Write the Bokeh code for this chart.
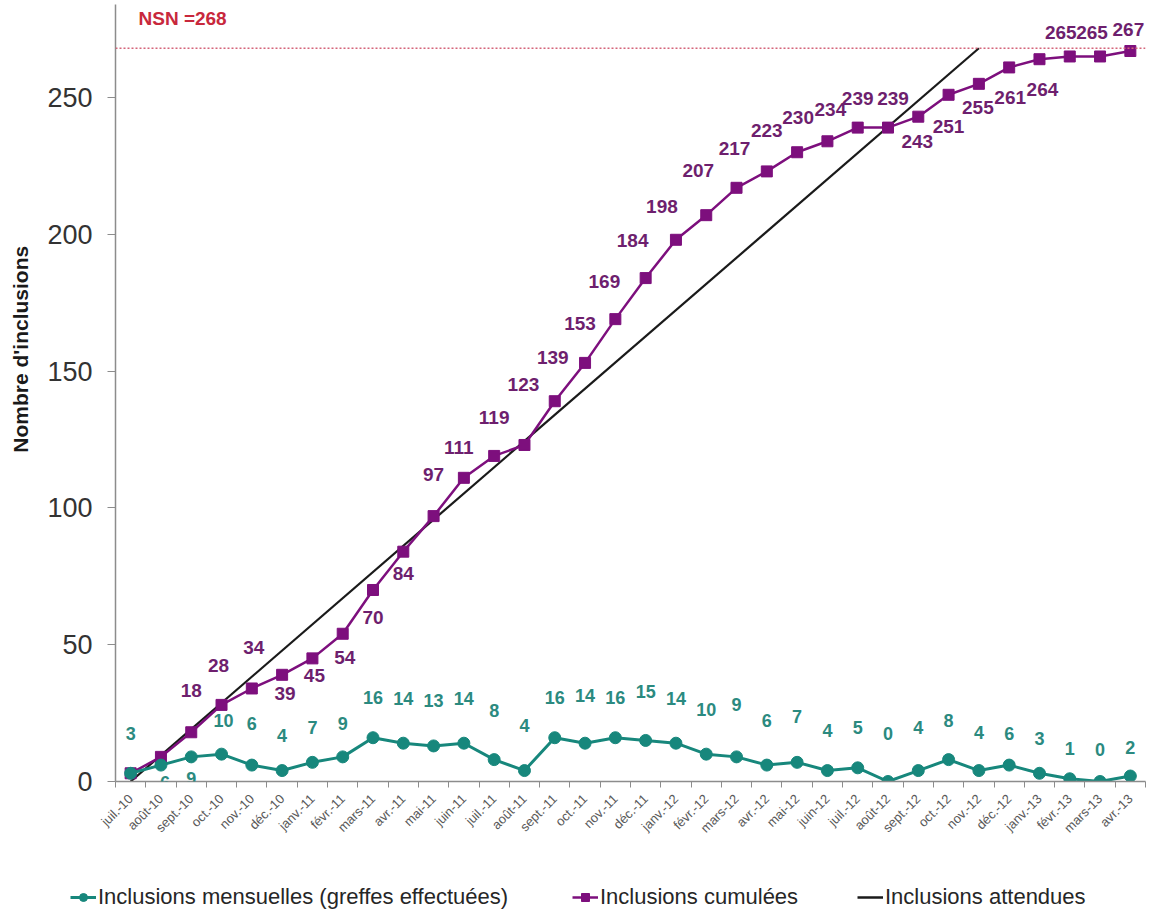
import math
from bokeh.plotting import figure
from bokeh.layouts import column, row
from bokeh.models import (ColumnDataSource, Range1d, FixedTicker, LabelSet, Label,
                          Legend, LegendItem, Span)
from bokeh.core.properties import value
from bokeh.embed import file_html
from bokeh.resources import INLINE

# ---------------- data ----------------
months = ["juil.-10", "août-10", "sept.-10", "oct.-10", "nov.-10", "déc.-10",
          "janv.-11", "févr.-11", "mars-11", "avr.-11", "mai-11", "juin-11",
          "juil.-11", "août-11", "sept.-11", "oct.-11", "nov.-11", "déc.-11",
          "janv.-12", "févr.-12", "mars-12", "avr.-12", "mai-12", "juin-12",
          "juil.-12", "août-12", "sept.-12", "oct.-12", "nov.-12", "déc.-12",
          "janv.-13", "févr.-13", "mars-13", "avr.-13"]
mensuelles = [3, 6, 9, 10, 6, 4, 7, 9, 16, 14, 13, 14, 8, 4, 16, 14, 16, 15,
              14, 10, 9, 6, 7, 4, 5, 0, 4, 8, 4, 6, 3, 1, 0, 2]
cumulees = [3, 9, 18, 28, 34, 39, 45, 54, 70, 84, 97, 111, 119, 123, 139, 153,
            169, 184, 198, 207, 217, 223, 230, 234, 239, 239, 243, 251, 255,
            261, 264, 265, 265, 267]
attendues_x = [0, 28]      # month index where expected line starts / ends
attendues_y = [0, 268]
nsn = 268
y_ticks = [0, 50, 100, 150, 200, 250]

# ---------------- style ----------------
SANS = "Liberation Sans"
TEAL = "#17877c"
TEAL_TXT = "#2b8a80"
PURPLE = "#7d0f7d"
PURPLE_TXT = "#6e1f6e"

# label offsets (pixels, image convention: +dy = downwards)
teal_dx = [0, 4, 0, 2] + [0] * 30
teal_dy = [-40, 17, 22, -34, -42, -35, -35, -33, -40, -45, -45, -45, -49, -45,
           -40, -48, -40, -49, -45, -45, -52, -45, -46, -40, -40, -48, -43,
           -39, -38, -32, -35, -30, -32, -29]
purple_dx = [0, 0, 0, -3, 2, 3, 2, 2, 0, 0, 0, -5, 0, -1, -2, -5, -11, -13,
             -14, -8, -2, 0, 1, 3, 0, 5, -1, 0, -1, 1, 3, -9, -8, -2]
purple_dy = [0, 0, -42, -39, -41, 19, 17, 24, 28, 22, -42, -30, -38, -60, -44,
             -39, -38, -38, -33, -45, -39, -41, -35, -32, -29, -29, 25, 32, 24,
             30, 30, -24, -24, -22]

idx = list(range(len(months)))

# ---------------- main plot ----------------
p = figure(width=1108, height=870, output_backend="svg", toolbar_location=None,
           x_range=Range1d(-0.5, len(months) - 0.5), y_range=Range1d(0, 284),
           min_border_left=75, min_border_right=3, min_border_top=4,
           min_border_bottom=89)
p.outline_line_color = None
p.grid.visible = False

xa = p.xaxis[0]
xa.ticker = FixedTicker(ticks=idx, minor_ticks=[i - 0.5 for i in range(len(months) + 1)])
xa.major_label_overrides = {i: m for i, m in enumerate(months)}
xa.major_label_orientation = math.pi / 4
xa.major_tick_out = 0
xa.major_tick_in = 0
xa.minor_tick_out = 6
xa.minor_tick_in = 0
xa.minor_tick_line_color = "#8c8c8c"
xa.axis_line_color = "#8c8c8c"
xa.axis_line_width = 1.5
xa.major_label_text_font = SANS
xa.major_label_text_font_size = "13px"
xa.major_label_text_color = "#595959"
xa.major_label_standoff = 9

ya = p.yaxis[0]
ya.ticker = FixedTicker(ticks=y_ticks)
ya.major_tick_out = 8
ya.major_tick_in = 0
ya.minor_tick_out = 0
ya.minor_tick_in = 0
ya.major_tick_line_color = "#8c8c8c"
ya.axis_line_color = "#8c8c8c"
ya.axis_line_width = 1.5
ya.major_label_text_font = SANS
ya.major_label_text_font_size = "27px"
ya.major_label_text_color = "#333333"
ya.major_label_standoff = 15

p.add_layout(Span(location=nsn, dimension="width", line_color="#d4657a",
                  line_dash="2 2", line_width=1.5))

att = p.line(attendues_x, attendues_y, line_color="#1a1a1a", line_width=2.2)

src_c = ColumnDataSource(dict(x=idx, y=cumulees))
p.line("x", "y", source=src_c, line_color=PURPLE, line_width=2.5)
p.scatter("x", "y", source=src_c, marker="square", size=11,
          fill_color=PURPLE, line_color=PURPLE)

src_m = ColumnDataSource(dict(x=idx, y=mensuelles, t=[str(v) for v in mensuelles],
                              dx=teal_dx, dy=[-d for d in teal_dy]))
p.line("x", "y", source=src_m, line_color=TEAL, line_width=3)
p.scatter("x", "y", source=src_m, marker="circle", size=12,
          fill_color=TEAL, line_color=TEAL)

src_cl = ColumnDataSource(dict(x=idx[2:], y=cumulees[2:], t=[str(v) for v in cumulees[2:]],
                               dx=purple_dx[2:], dy=[-d for d in purple_dy[2:]]))
p.add_layout(LabelSet(x="x", y="y", text="t", source=src_cl, x_offset="dx", y_offset="dy",
                      text_align="center", text_baseline="middle",
                      text_font=value(SANS), text_font_style="bold",
                      text_font_size="19px", text_color=PURPLE_TXT))
p.add_layout(LabelSet(x="x", y="y", text="t", source=src_m, x_offset="dx", y_offset="dy",
                      text_align="center", text_baseline="middle",
                      text_font=value(SANS), text_font_style="bold",
                      text_font_size="18px", text_color=TEAL_TXT))

p.add_layout(Label(x=23, y=nsn, x_units="screen", y_units="data", y_offset=30,
                   text="NSN =268", text_align="left", text_baseline="middle",
                   text_font=SANS, text_font_style="bold", text_font_size="19px",
                   text_color="#c8283c"))

# ---------------- y title strip ----------------
tf = figure(width=40, height=870, output_backend="svg", toolbar_location=None,
            x_range=Range1d(0, 40), y_range=Range1d(0, 870),
            x_axis_type=None, y_axis_type=None,
            min_border=0, min_border_left=0, min_border_right=0,
            min_border_top=0, min_border_bottom=0)
tf.outline_line_color = None
tf.grid.visible = False
tf.add_layout(Label(x=20, y=484, text="Nombre d'inclusions", angle=math.pi / 2,
                    text_align="center", text_baseline="middle",
                    text_font=SANS, text_font_style="bold", text_font_size="21px",
                    text_color="#1a1a1a"))

# ---------------- legend strip ----------------
lf = figure(width=1148, height=42, output_backend="svg", toolbar_location=None,
            x_range=Range1d(0, 1), y_range=Range1d(0, 1),
            x_axis_type=None, y_axis_type=None,
            min_border=0, min_border_left=0, min_border_right=0,
            min_border_top=0, min_border_bottom=0)
lf.outline_line_color = None
lf.grid.visible = False
nan = [float("nan")]
l_ml = lf.line(nan, nan, line_color=TEAL, line_width=3)
l_mm = lf.scatter(nan, nan, marker="circle", size=10, fill_color=TEAL, line_color=TEAL)
l_cl = lf.line(nan, nan, line_color=PURPLE, line_width=2.5)
l_cm = lf.scatter(nan, nan, marker="square", size=10, fill_color=PURPLE, line_color=PURPLE)
l_at = lf.line(nan, nan, line_color="#1a1a1a", line_width=2.5)


def mk_legend(label, rends, loc):
    lg = Legend(items=[LegendItem(label=label, renderers=rends)], location=loc,
                orientation="horizontal", border_line_color=None,
                background_fill_alpha=0, padding=0, margin=0,
                label_text_font=SANS, label_text_font_size="22px",
                label_text_color="#262626", glyph_width=26, glyph_height=20,
                label_height=20, label_standoff=2, spacing=0)
    lf.add_layout(lg)


mk_legend("Inclusions mensuelles (greffes effectuées)", [l_ml, l_mm], (70, 2))
mk_legend("Inclusions cumulées", [l_cl, l_cm], (572, 2))
mk_legend("Inclusions attendues", [l_at], (857, 2))

layout = column(row(tf, p), lf)
open("out.html", "w").write(file_html(layout, INLINE))
